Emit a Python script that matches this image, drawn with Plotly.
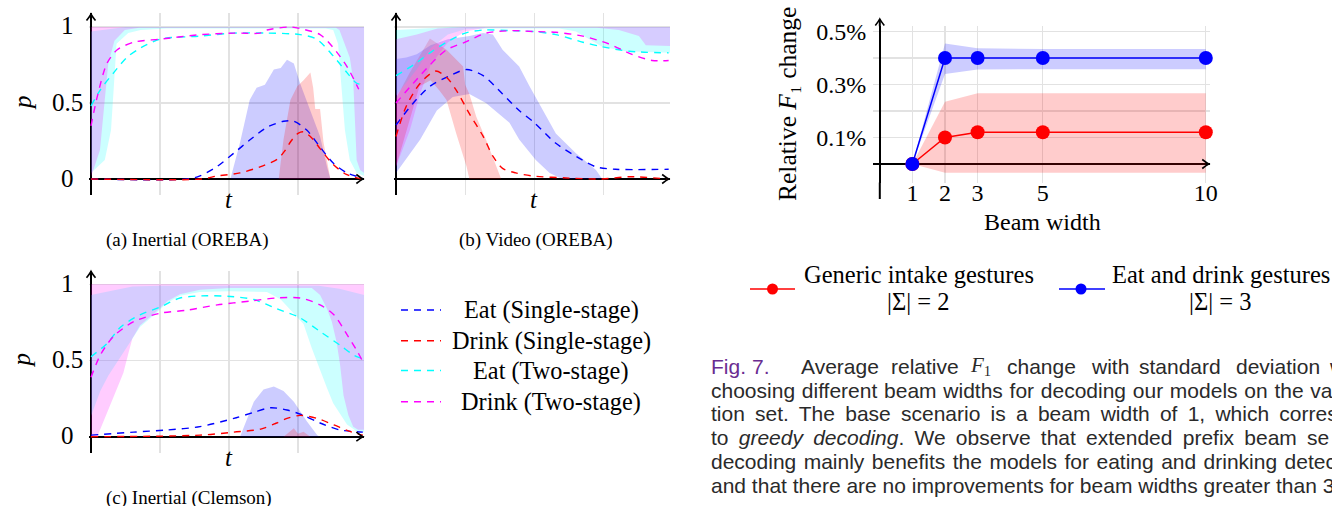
import plotly.graph_objects as go

W, H = 1332, 506

# ---------------- (a) Inertial (OREBA) : (t, p) pairs ----------------
A_EAT_SINGLE = [(0, 0), (1.4, 0), (1.58, 0.02), (1.82, 0.08), (2.07, 0.17), (2.31, 0.26), (2.55, 0.34),
                (2.79, 0.38), (2.94, 0.38), (3.13, 0.32), (3.32, 0.21), (3.51, 0.105), (3.71, 0.04), (3.94, 0.007)]
A_DRINK_SINGLE = [(0, 0), (1.6, 0), (1.83, 0.02), (2.16, 0.04), (2.45, 0.08), (2.7, 0.13), (2.8, 0.18),
                  (2.9, 0.25), (3.0, 0.3), (3.08, 0.31), (3.2, 0.27), (3.32, 0.2), (3.5, 0.1), (3.7, 0.03), (3.92, 0.0)]
A_EAT_TWO = [(0, 0.48), (0.14, 0.59), (0.33, 0.70), (0.52, 0.80), (0.71, 0.86), (1.0, 0.92), (1.58, 0.94),
             (2.07, 0.96), (2.55, 0.96), (3.03, 0.95), (3.27, 0.92), (3.51, 0.81), (3.71, 0.70), (3.85, 0.63), (3.95, 0.62)]
A_DRINK_TWO = [(0, 0.35), (0.09, 0.54), (0.23, 0.76), (0.38, 0.85), (0.62, 0.90), (1.0, 0.92), (1.6, 0.95),
               (2.07, 0.96), (2.45, 0.96), (2.55, 0.98), (2.89, 1.0), (3.03, 0.99), (3.32, 0.95), (3.5, 0.87),
               (3.71, 0.74), (3.88, 0.59)]
A_EAT_SINGLE_LO = [(2.02, 0), (3.47, 0)]
A_EAT_SINGLE_HI = [(2.02, 0), (2.16, 0.24), (2.3, 0.52), (2.4, 0.6), (2.52, 0.62), (2.65, 0.72), (2.75, 0.73),
                   (2.84, 0.785), (2.94, 0.76), (3.03, 0.63), (3.17, 0.46), (3.32, 0.28), (3.42, 0.08), (3.47, 0)]
A_DRINK_SINGLE_LO = [(2.72, 0), (3.47, 0)]
A_DRINK_SINGLE_HI = [(2.72, 0), (2.79, 0.26), (2.89, 0.52), (2.99, 0.61), (3.08, 0.65), (3.18, 0.70), (3.22, 0.6),
                     (3.25, 0.46), (3.32, 0.46), (3.37, 0.24), (3.47, 0)]
A_EAT_TWO_LO = [(0, 0.04), (0.2, 0.125), (0.29, 0.32), (0.33, 0.6), (0.37, 0.89), (0.54, 0.96), (0.72, 0.98),
                (1.1, 0.99), (3.4, 0.99), (3.51, 0.98), (3.58, 0.89), (3.63, 0.61), (3.68, 0.32), (3.75, 0.125),
                (3.85, 0.04), (3.96, 0.02)]
A_EAT_TWO_HI = [(0, 0.97), (0.3, 0.99), (0.5, 1.0), (3.96, 1.0)]
A_DRINK_TWO_LO = [(0, 0.015), (0.05, 0.08), (0.13, 0.19), (0.17, 0.39), (0.25, 0.76), (0.34, 0.91), (0.49, 0.98),
                  (0.7, 0.995), (3.55, 0.995), (3.6, 0.98), (3.75, 0.80), (3.80, 0.65), (3.83, 0.39), (3.85, 0.125),
                  (3.9, 0.06), (3.96, 0.04)]
A_DRINK_TWO_HI = [(0, 1.0), (3.96, 1.0)]

# ---------------- (b) Video (OREBA) ----------------
B_EAT_SINGLE = [(0, 0.355), (0.25, 0.5), (0.49, 0.61), (0.78, 0.68), (1.02, 0.72), (1.26, 0.68), (1.54, 0.56),
                (1.78, 0.45), (2.0, 0.37), (2.31, 0.235), (2.6, 0.15), (2.89, 0.08), (3.17, 0.064), (3.94, 0.064)]
B_DRINK_SINGLE = [(0, 0.28), (0.15, 0.48), (0.35, 0.63), (0.57, 0.71), (0.73, 0.67), (0.87, 0.585), (1.06, 0.43),
                  (1.26, 0.28), (1.4, 0.15), (1.54, 0.07), (1.73, 0.04), (1.97, 0.02), (2.5, 0.006), (2.98, 0.0),
                  (3.37, 0.015), (3.94, 0.0)]
B_EAT_TWO = [(0, 0.68), (0.25, 0.75), (0.49, 0.83), (0.73, 0.90), (1.0, 0.96), (1.26, 0.98), (1.68, 0.976),
             (2.0, 0.97), (2.31, 0.95), (2.7, 0.90), (2.98, 0.87), (3.37, 0.84), (3.94, 0.83)]
B_DRINK_TWO = [(0, 0.5), (0.25, 0.63), (0.49, 0.75), (0.73, 0.85), (1.0, 0.90), (1.3, 0.96), (1.68, 0.976),
               (2.0, 0.97), (2.31, 0.965), (2.7, 0.94), (3.07, 0.89), (3.41, 0.82), (3.7, 0.78), (3.94, 0.78)]
B_EAT_SINGLE_LO = [(0, 0.04), (0.35, 0.26), (0.59, 0.45), (0.82, 0.54), (1.06, 0.56), (1.3, 0.50), (1.64, 0.37),
                   (1.78, 0.26), (2.02, 0.125), (2.22, 0.04), (2.4, 0), (2.98, 0)]
B_EAT_SINGLE_HI = [(0, 0.79), (0.15, 0.80), (0.3, 0.82), (0.5, 0.88), (0.75, 0.92), (1.06, 0.94), (1.26, 0.96),
                   (1.4, 0.95), (1.54, 0.85), (1.78, 0.74), (1.93, 0.61), (2.12, 0.45), (2.31, 0.30), (2.6, 0.17),
                   (2.89, 0.06), (2.98, 0)]
B_DRINK_SINGLE_LO = [(0, 0.08), (0.15, 0.32), (0.34, 0.61), (0.5, 0.65), (0.63, 0.58), (0.73, 0.52), (0.87, 0.30),
                     (1.02, 0.08), (1.06, 0)]
B_DRINK_SINGLE_HI = [(0, 0.53), (0.2, 0.7), (0.49, 0.925), (0.73, 0.85), (0.97, 0.74), (1.0, 0.62), (1.06, 0.56),
                     (1.16, 0.41), (1.3, 0.26), (1.45, 0.08), (1.52, 0)]
B_EAT_TWO_LO = [(0, 0.55), (0.3, 0.72), (0.5, 0.86), (0.75, 0.95), (1.0, 0.985), (1.3, 0.99), (2.36, 0.99),
                (2.6, 0.97), (2.98, 0.87), (3.32, 0.84), (3.96, 0.83)]
B_EAT_TWO_HI = [(0, 0.98), (0.4, 0.99), (0.8, 1.0), (3.96, 1.0)]
B_DRINK_TWO_LO = [(0, 0.08), (0.2, 0.32), (0.34, 0.55), (0.5, 0.75), (0.75, 0.9), (1.0, 0.97), (1.3, 0.995),
                  (2.9, 0.995), (2.98, 0.99), (3.22, 0.98), (3.51, 0.94), (3.61, 0.88), (3.96, 0.875)]
B_DRINK_TWO_HI = [(0, 0.92), (0.3, 0.95), (0.6, 0.99), (1.0, 1.0), (3.96, 1.0)]

# ---------------- (c) Inertial (Clemson) ----------------
C_EAT_SINGLE = [(0, 0.01), (0.62, 0.03), (1.1, 0.044), (1.58, 0.066), (2.07, 0.12), (2.36, 0.16), (2.6, 0.19),
                (2.84, 0.175), (3.08, 0.14), (3.32, 0.09), (3.61, 0.044), (3.94, 0.03)]
C_DRINK_SINGLE = [(0, 0.0), (1.58, 0.01), (2.07, 0.03), (2.46, 0.05), (2.69, 0.09), (2.84, 0.12), (3.03, 0.14),
                  (3.28, 0.12), (3.52, 0.077), (3.76, 0.033), (3.94, 0.01)]
C_EAT_TWO = [(0, 0.525), (0.23, 0.61), (0.43, 0.72), (0.71, 0.80), (1.0, 0.85), (1.29, 0.91), (1.68, 0.925),
             (2.02, 0.92), (2.36, 0.90), (2.69, 0.84), (3.03, 0.78), (3.32, 0.69), (3.61, 0.60), (3.81, 0.535), (3.95, 0.51)]
C_DRINK_TWO = [(0, 0.39), (0.14, 0.54), (0.33, 0.66), (0.62, 0.755), (1.0, 0.81), (1.39, 0.83), (1.83, 0.865),
               (2.31, 0.89), (2.69, 0.91), (3.03, 0.91), (3.32, 0.865), (3.52, 0.80), (3.71, 0.67), (3.86, 0.56), (3.93, 0.50)]
C_EAT_SINGLE_LO = [(2.16, 0), (3.32, 0)]
C_EAT_SINGLE_HI = [(2.16, 0), (2.36, 0.23), (2.5, 0.31), (2.65, 0.33), (2.79, 0.30), (2.94, 0.23), (3.13, 0.10),
                   (3.28, 0.01), (3.32, 0)]
C_DRINK_SINGLE_LO = [(2.79, 0), (3.18, 0)]
C_DRINK_SINGLE_HI = [(2.79, 0), (2.94, 0.055), (3.0, 0.02), (3.08, 0.033), (3.18, 0)]
C_EAT_TWO_LO = [(0, 0.135), (0.135, 0.30), (0.25, 0.40), (0.38, 0.49), (0.5, 0.57), (0.57, 0.62), (0.71, 0.72),
                (0.92, 0.80), (1.11, 0.88), (1.29, 0.925), (1.58, 0.95), (2.0, 0.955), (2.55, 0.95), (2.75, 0.90),
                (2.88, 0.84), (3.08, 0.74), (3.2, 0.58), (3.32, 0.44), (3.42, 0.32), (3.51, 0.22), (3.62, 0.14),
                (3.71, 0.08), (3.85, 0.035), (3.96, 0.03)]
C_EAT_TWO_HI = [(0, 0.93), (0.3, 0.96), (0.6, 0.985), (1.0, 0.99), (3.3, 0.99), (3.6, 0.97), (3.96, 0.93)]
C_DRINK_TWO_LO = [(0, 0.0), (0.09, 0.0), (0.23, 0.16), (0.38, 0.32), (0.47, 0.42), (0.55, 0.56), (0.6, 0.645),
                  (0.71, 0.73), (0.92, 0.81), (1.11, 0.89), (1.29, 0.935), (1.58, 0.965), (2.0, 0.975), (3.2, 0.975),
                  (3.32, 0.93), (3.42, 0.84), (3.49, 0.755), (3.56, 0.62), (3.61, 0.47), (3.66, 0.27), (3.73, 0.14),
                  (3.8, 0.066), (3.87, 0.045), (3.96, 0.045)]
C_DRINK_TWO_HI = [(0, 1.0), (3.96, 1.0)]

# ---------------- Beam width chart ----------------
BEAM_WIDTH = [1, 2, 3, 5, 10]
GENERIC_MEAN = [0, 0.10, 0.12, 0.12, 0.12]
GENERIC_LO = [0, -0.033, -0.033, -0.033, -0.033]
GENERIC_HI = [0, 0.235, 0.267, 0.267, 0.267]
EATDRINK_MEAN = [0, 0.40, 0.40, 0.40, 0.40]
EATDRINK_LO = [0, 0.34, 0.357, 0.358, 0.358]
EATDRINK_HI = [0, 0.455, 0.437, 0.434, 0.434]
Y_TICKS = [0.1, 0.3, 0.5]
Y_TICKTEXT = ["0.1%", "0.3%", "0.5%"]
Y_MINOR_GRID = [0.2, 0.4]

LEGEND_LABELS = ["Eat (Single-stage)", "Drink (Single-stage)", "Eat (Two-stage)", "Drink (Two-stage)"]
SERIES_COLORS = ["#0000ff", "#ff0000", "#00ffff", "#ff00ff"]
FILL_COLORS = ["rgba(0,0,255,0.2)", "rgba(255,0,0,0.2)", "rgba(0,255,255,0.2)", "rgba(255,0,255,0.2)"]

SERIF = "Liberation Serif"
SANS = "Liberation Sans"
GRID = "#e2e2e2"
DASH = "7px,6px"

T_RANGE = [-0.03, 3.96]
P_RANGE = [-0.105, 1.09]

panels = [
    dict(sfx="", ox=91, sx=69, oy=179, sy=152,
         means=[A_EAT_SINGLE, A_DRINK_SINGLE, A_EAT_TWO, A_DRINK_TWO],
         bands=[(A_EAT_SINGLE_LO, A_EAT_SINGLE_HI), (A_DRINK_SINGLE_LO, A_DRINK_SINGLE_HI),
                (A_EAT_TWO_LO, A_EAT_TWO_HI), (A_DRINK_TWO_LO, A_DRINK_TWO_HI)],
         ylabels=True, caption="(a) Inertial (OREBA)", cap_x=187, cap_y=240, cap_anchor="middle"),
    dict(sfx="2", ox=396, sx=69.2, oy=179, sy=152,
         means=[B_EAT_SINGLE, B_DRINK_SINGLE, B_EAT_TWO, B_DRINK_TWO],
         bands=[(B_EAT_SINGLE_LO, B_EAT_SINGLE_HI), (B_DRINK_SINGLE_LO, B_DRINK_SINGLE_HI),
                (B_EAT_TWO_LO, B_EAT_TWO_HI), (B_DRINK_TWO_LO, B_DRINK_TWO_HI)],
         ylabels=False, caption="(b) Video (OREBA)", cap_x=536, cap_y=240, cap_anchor="middle"),
    dict(sfx="3", ox=91, sx=69, oy=436.7, sy=152.4,
         means=[C_EAT_SINGLE, C_DRINK_SINGLE, C_EAT_TWO, C_DRINK_TWO],
         bands=[(C_EAT_SINGLE_LO, C_EAT_SINGLE_HI), (C_DRINK_SINGLE_LO, C_DRINK_SINGLE_HI),
                (C_EAT_TWO_LO, C_EAT_TWO_HI), (C_DRINK_TWO_LO, C_DRINK_TWO_HI)],
         ylabels=True, caption="(c) Inertial (Clemson)", cap_x=189, cap_y=485, cap_anchor="top"),
]


def px(x):
    return x / W


def py(y):
    return 1 - y / H


def xdom(o, s, r):
    return [(o + r[0] * s) / W, (o + r[1] * s) / W]


def ydom(o, s, r):
    return [1 - (o - r[0] * s) / H, 1 - (o - r[1] * s) / H]


def arrow_up(xp, yp):
    """open 'to'-style arrow head, tip at pixel (xp, yp), pointing up"""
    return dict(type="path", xref="paper", yref="paper", layer="above",
                path=(f"M{px(xp - 4.5)},{py(yp + 6.5)} Q{px(xp - 1)},{py(yp + 2)} {px(xp)},{py(yp)} "
                      f"Q{px(xp + 1)},{py(yp + 2)} {px(xp + 4.5)},{py(yp + 6.5)}"),
                line=dict(color="black", width=1.6))


def arrow_right(xp, yp):
    return dict(type="path", xref="paper", yref="paper", layer="above",
                path=(f"M{px(xp - 6.5)},{py(yp - 4.5)} Q{px(xp - 2)},{py(yp - 1)} {px(xp)},{py(yp)} "
                      f"Q{px(xp - 2)},{py(yp + 1)} {px(xp - 6.5)},{py(yp + 4.5)}"),
                line=dict(color="black", width=1.6))


fig = go.Figure()
annotations = []
shapes = []
layout = {}

for pnl in panels:
    sfx = pnl["sfx"]
    xa, ya = "x" + sfx, "y" + sfx
    for (lo, hi), fc in zip(pnl["bands"], FILL_COLORS):
        xs = [t for t, _ in hi] + [t for t, _ in reversed(lo)]
        ys = [p for _, p in hi] + [p for _, p in reversed(lo)]
        fig.add_trace(go.Scatter(x=xs, y=ys, xaxis=xa, yaxis=ya, mode="lines", fill="toself",
                                 fillcolor=fc, line=dict(width=0), hoverinfo="skip", showlegend=False))
    for series, col, name in zip(pnl["means"], SERIES_COLORS, LEGEND_LABELS):
        fig.add_trace(go.Scatter(x=[t for t, _ in series], y=[p for _, p in series], xaxis=xa, yaxis=ya,
                                 mode="lines", name=name, showlegend=False,
                                 line=dict(color=col, width=1.4, dash=DASH, shape="spline", smoothing=0.8)))
    layout["xaxis" + sfx] = dict(domain=xdom(pnl["ox"], pnl["sx"], T_RANGE), range=T_RANGE, anchor=ya,
                                 tickvals=[1, 2, 3], showticklabels=False, ticks="", showgrid=True,
                                 gridcolor=GRID, gridwidth=1.2, zeroline=True, zerolinecolor="black",
                                 zerolinewidth=2, showline=False, fixedrange=True, automargin=False)
    layout["yaxis" + sfx] = dict(domain=ydom(pnl["oy"], pnl["sy"], P_RANGE), range=P_RANGE, anchor=xa,
                                 tickvals=[0.5, 1], showticklabels=False, ticks="", showgrid=True,
                                 gridcolor=GRID, gridwidth=1.2, zeroline=True, zerolinecolor="black",
                                 zerolinewidth=2, showline=False, fixedrange=True, automargin=False)
    # axis arrow heads (decoration at the axis ends)
    shapes.append(arrow_up(pnl["ox"], pnl["oy"] - 1.085 * pnl["sy"]))
    shapes.append(arrow_right(pnl["ox"] + 3.94 * pnl["sx"], pnl["oy"]))
    # axis labels
    annotations.append(dict(x=2, xref=xa, y=py(pnl["oy"] + 21), yref="paper", text="<i>t</i>",
                            showarrow=False, xanchor="center", yanchor="middle",
                            font=dict(family=SERIF, size=25, color="black")))
    if pnl["ylabels"]:
        for v, lab in [(0, "0"), (0.5, "0.5"), (1, "1")]:
            annotations.append(dict(x=px(67), xref="paper", y=v, yref=ya, yshift=1, text=lab,
                                    showarrow=False, xanchor="center", yanchor="middle",
                                    font=dict(family=SERIF, size=25, color="black")))
        annotations.append(dict(x=px(22), xref="paper", y=0.5, yref=ya, text="<i>p</i>", textangle=-90,
                                showarrow=False, xanchor="center", yanchor="middle",
                                font=dict(family=SERIF, size=25, color="black")))
    annotations.append(dict(x=px(pnl["cap_x"]), y=py(pnl["cap_y"]), xref="paper", yref="paper",
                            text=pnl["caption"], showarrow=False, xanchor="center", yanchor=pnl["cap_anchor"],
                            font=dict(family=SERIF, size=19, color="black")))

# ---- left legend ----
LEG_ROWS = [310, 340.7, 370.5, 401.7]
for lab, col, yy in zip(LEGEND_LABELS, SERIES_COLORS, LEG_ROWS):
    shapes.append(dict(type="line", xref="paper", yref="paper", x0=px(401), x1=px(441), y0=py(yy), y1=py(yy),
                       line=dict(color=col, width=1.4, dash=DASH)))
    annotations.append(dict(x=px(551), y=py(yy), xref="paper", yref="paper", text=lab,
                            showarrow=False, xanchor="center", yanchor="middle",
                            font=dict(family=SERIF, size=24.3, color="black")))

# ---------------- beam width chart ----------------
BX_RANGE = [-0.2, 10.12]
BY_RANGE = [-0.07, 0.52]
BOX, BSX, BOY, BSY = 879.8, 32.6, 164, 265

fig.add_trace(go.Scatter(x=BEAM_WIDTH + BEAM_WIDTH[::-1], y=GENERIC_HI + GENERIC_LO[::-1], xaxis="x4",
                         yaxis="y4", mode="lines", fill="toself", fillcolor="rgba(255,0,0,0.2)",
                         line=dict(width=0), hoverinfo="skip", showlegend=False))
fig.add_trace(go.Scatter(x=BEAM_WIDTH + BEAM_WIDTH[::-1], y=EATDRINK_HI + EATDRINK_LO[::-1], xaxis="x4",
                         yaxis="y4", mode="lines", fill="toself", fillcolor="rgba(0,0,255,0.2)",
                         line=dict(width=0), hoverinfo="skip", showlegend=False))
fig.add_trace(go.Scatter(x=BEAM_WIDTH, y=GENERIC_MEAN, xaxis="x4", yaxis="y4", mode="lines+markers",
                         name="Generic intake gestures |Σ| = 2", showlegend=False, cliponaxis=False,
                         line=dict(color="#ff0000", width=1.5), marker=dict(color="#ff0000", size=14)))
fig.add_trace(go.Scatter(x=BEAM_WIDTH, y=EATDRINK_MEAN, xaxis="x4", yaxis="y4", mode="lines+markers",
                         name="Eat and drink gestures |Σ| = 3", showlegend=False, cliponaxis=False,
                         line=dict(color="#0000ff", width=1.5), marker=dict(color="#0000ff", size=14)))

layout["xaxis4"] = dict(domain=xdom(BOX, BSX, BX_RANGE), range=BX_RANGE, anchor="y4", tickvals=BEAM_WIDTH,
                        ticktext=[str(b) for b in BEAM_WIDTH], ticks="", showgrid=True, gridcolor=GRID,
                        gridwidth=1.2, zeroline=True, zerolinecolor="black", zerolinewidth=2, showline=False,
                        ticklabelstandoff=-7, automargin=False,
                        tickfont=dict(family=SERIF, size=24, color="black"), fixedrange=True)
layout["yaxis4"] = dict(domain=ydom(BOY, BSY, BY_RANGE), range=BY_RANGE, anchor="x4", tickvals=Y_TICKS,
                        ticktext=Y_TICKTEXT, ticks="", showgrid=True, gridcolor=GRID, gridwidth=1.2,
                        minor=dict(tickvals=Y_MINOR_GRID, showgrid=True, gridcolor=GRID, gridwidth=1.2, ticks=""),
                        zeroline=True, zerolinecolor="black", zerolinewidth=2, showline=False,
                        ticklabelstandoff=6, automargin=False,
                        tickfont=dict(family=SERIF, size=24, color="black"), fixedrange=True)
# y axis extensions beyond the plotting range
ydom4 = ydom(BOY, BSY, BY_RANGE)
shapes.append(dict(type="line", xref="x4", yref="paper", x0=0, x1=0, y0=py(199), y1=ydom4[0],
                   line=dict(color="black", width=2)))
shapes.append(dict(type="line", xref="x4", yref="paper", x0=0, x1=0, y0=ydom4[1], y1=py(19.5),
                   line=dict(color="black", width=2)))
shapes.append(arrow_up(BOX, 19))
shapes.append(arrow_right(BOX + 10.09 * BSX, BOY))
annotations.append(dict(x=px(787), y=py(104), xref="paper", yref="paper",
                        text="Relative <i>F</i>\u2081 change", textangle=-90, showarrow=False,
                        xanchor="center", yanchor="middle",
                        font=dict(family=SERIF, size=25.5, color="black")))
annotations.append(dict(x=px(1042.6), y=py(222), xref="paper", yref="paper", text="Beam width",
                        showarrow=False, xanchor="center", yanchor="middle",
                        font=dict(family=SERIF, size=24, color="black")))

# ---- right legend ----
for (x0, x1, xm, tx, cx, lab1, lab2, col) in [
        (750, 795, 772.5, 802, 918, "Generic intake gestures", "|Σ| = 2", "#ff0000"),
        (1059, 1105, 1081, 1110, 1220, "Eat and drink gestures", "|Σ| = 3", "#0000ff")]:
    shapes.append(dict(type="line", xref="paper", yref="paper", x0=px(x0), x1=px(x1), y0=py(289), y1=py(289),
                       line=dict(color=col, width=1.5)))
    shapes.append(dict(type="circle", xref="paper", yref="paper", x0=px(xm - 5.5), x1=px(xm + 5.5),
                       y0=py(289 + 5.5), y1=py(289 - 5.5), fillcolor=col, line=dict(color=col, width=0)))
    annotations.append(dict(x=px(tx), y=py(274.3), xref="paper", yref="paper", text=lab1,
                            showarrow=False, xanchor="left", yanchor="middle",
                            font=dict(family=SERIF, size=24.5, color="black")))
    annotations.append(dict(x=px(cx), y=py(301.7), xref="paper", yref="paper", text=lab2,
                            showarrow=False, xanchor="center", yanchor="middle",
                            font=dict(family=SERIF, size=24.5, color="black")))

# ---- figure caption ----
CAP_COLOR = "#2a2a2a"
CAP_FONT = dict(family=SANS, size=21, color=CAP_COLOR)
LINE1_WORDS = [(709, "Fig."), (750, "7."), (799, "Average"), (889, "relative"),
               (968, '<span style="font-family:Liberation Serif"><i>F</i><sub>1</sub></span>'),
               (1005, "change"), (1089, "with"), (1137, "standard"), (1234, "deviation"), (1327, "w")]
for i, (xx, word) in enumerate(LINE1_WORDS):
    f = dict(CAP_FONT)
    if i < 2:
        f["color"] = "#6a2c91"
    annotations.append(dict(x=px(xx), y=py(366), xref="paper", yref="paper", text=word, showarrow=False,
                            xanchor="left", yanchor="middle", font=f))
CAPTION_LINES = [
    (390, 0.9, "choosing different beam widths for decoding our models on the va"),
    (413.6, 4.4, "tion set. The base scenario is a beam width of 1, which corresp"),
    (437.4, 4.4, "to <i>greedy decoding</i>. We observe that extended prefix beam se"),
    (461.2, 1.6, "decoding mainly benefits the models for eating and drinking detec"),
    (485, 0, "and that there are no improvements for beam widths greater than 3"),
]
for yy, ws, txt in CAPTION_LINES:
    annotations.append(dict(x=px(709), y=py(yy), xref="paper", yref="paper",
                            text=f'<span style="word-spacing:{ws}px">{txt}</span>', showarrow=False,
                            xanchor="left", yanchor="middle", font=CAP_FONT))

fig.update_layout(template="none", width=W, height=H, margin=dict(l=0, r=0, t=0, b=0, pad=0), autosize=False,
                  paper_bgcolor="white", plot_bgcolor="white", showlegend=False,
                  annotations=annotations, shapes=shapes, **layout)

fig.write_html("out.html", config={"displayModeBar": False, "staticPlot": True},
               post_script="document.body.style.margin='0';")
